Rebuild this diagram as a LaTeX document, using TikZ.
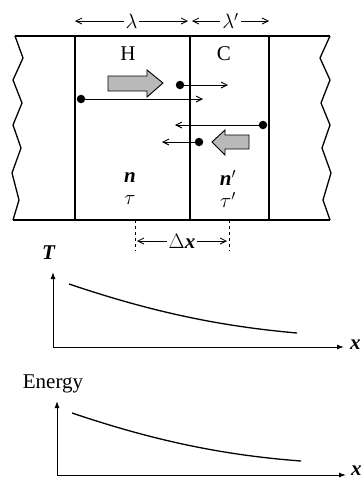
\documentclass[tikz,border=0pt]{standalone}
\usepackage{fontspec}
\setmainfont{Liberation Serif}
\usepackage{amsmath}
\usepackage{tikz}
\usetikzlibrary{arrows.meta, positioning, calc}

\tikzset{
  wall/.style={line width=1.3pt},
  dot/.style={circle, fill=black, inner sep=0pt, minimum size=8.5pt},
  path/.style={line width=0.9pt, -{Straight Barb[length=6pt, width=6pt]}, shorten <=-1pt},
  dim/.style={line width=0.8pt, {Straight Barb[length=6pt, width=6pt]}-{Straight Barb[length=6pt, width=6pt]}},
  flux/.style={draw, line width=0.9pt, fill=gray!55},
  axis/.style={line width=1pt, -{Latex[length=7pt, width=5pt]}},
  lbl/.style={font=\fontsize{21}{25}\selectfont, inner sep=0pt}
}

\begin{document}
\begin{tikzpicture}[x=1pt, y=-1pt]
  \useasboundingbox (0,0) rectangle (364,482);

  % slab: zigzag ends, top and bottom walls
  \draw[wall] (15,36) -- (23,58) -- (13,80) -- (22,103) -- (13,125) -- (21,148)
    -- (12,173) -- (19,200) -- (13,220);
  \draw[wall] (330,36) -- (320,58) -- (330,80) -- (321,103) -- (330,125) -- (322,148)
    -- (331,173) -- (323,200) -- (330,220);
  \draw[wall] (15,36) -- (330,36);
  \draw[wall] (13,220) -- (330,220);

  % cell walls
  \coordinate (lt) at (75,36);  \coordinate (lb) at (75,220);
  \coordinate (mt) at (190,36); \coordinate (mb) at (190,220);
  \coordinate (rt) at (269,36); \coordinate (rb) at (269,220);
  \draw[wall] (lt) -- (lb);
  \draw[line width=2pt] (mt) -- (mb);
  \draw[wall] (rt) -- (rb);

  % mean free paths
  \draw[dim] ($(lt)+(0,-15)$) -- node[lbl, fill=white, inner xsep=2pt] (lam) {$\lambda$} ($(mt)+(-2,-15)$);
  \draw[dim] ($(mt)+(2,-15)$) -- node[lbl, fill=white, inner xsep=2pt] (lamp) {$\lambda'$} ($(rt)+(0,-15)$);

  % hot and cold sides
  \node[lbl] (hot) at (128,54) {H};
  \node[lbl] (cold) at (224,54) {C};
  \node[lbl] (n) at (130,178) {\textbf{\textit{n}}};
  \node[lbl] (tau) at (130,200) {$\tau$};
  \node[lbl] (np) at (228,178) {\textbf{\textit{n}}$'$};
  \node[lbl] (taup) at (228,200) {$\tau'$};

  % net flux arrows
  \draw[flux] (108,76) -- (147,76) -- (147,70) -- (163,83) -- (147,97) -- (147,91)
    -- (108,91) -- cycle;
  \draw[flux] (249,135) -- (225,135) -- (225,130) -- (212,142) -- (225,155) -- (225,149)
    -- (249,149) -- cycle;

  % molecules crossing the plane
  \node[dot] (m1) at (180,85) {};
  \coordinate (e1) at (228,85);
  \draw[path] (m1) -- (e1);
  \node[dot] (m2) at (81,99) {};
  \coordinate (e2) at (203,99);
  \draw[path] (m2) -- (e2);
  \node[dot] (m3) at (263,125) {};
  \coordinate (e3) at (175,125);
  \draw[path] (m3) -- (e3);
  \node[dot] (m4) at (199,142) {};
  \coordinate (e4) at (162,142);
  \draw[path] (m4) -- (e4);

  % separation
  \draw[line width=0.8pt, dashed] (135,220) -- (135,251);
  \draw[line width=0.8pt, dashed] (229,220) -- (229,251);
  \draw[dim] (137,241) -- node[lbl, fill=white, inner xsep=2pt] (dx) {$\Delta$\textbf{\textit{x}}} (227,241);

  % temperature profile
  \coordinate (o1) at (53,347);
  \draw[axis] (o1) -- (53,272);
  \draw[axis] (o1) -- (344,347);
  \node[lbl] (tlab) at (49,253) {\textbf{\textit{T}}};
  \node[lbl, anchor=west] (x1) at (350,345) {\textbf{\textit{x}}};
  \draw[line width=1.3pt] (69,284) .. controls (149,311) and (217,326) .. (297,333);

  % energy profile
  \coordinate (o2) at (57,475);
  \draw[axis] (o2) -- (57,401);
  \draw[axis] (o2) -- (346,475);
  \node[lbl] (elab) at (53,384) {Energy};
  \node[lbl, anchor=west] (x2) at (351,471) {\textbf{\textit{x}}};
  \draw[line width=1.3pt] (72,413) .. controls (152,440) and (221,455) .. (301,461);

\end{tikzpicture}
\end{document}
